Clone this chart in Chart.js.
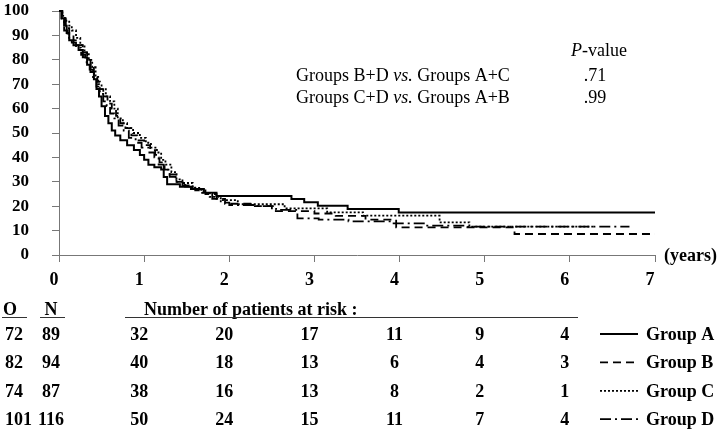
<!DOCTYPE html>
<html>
<head>
<meta charset="utf-8">
<script src="https://cdn.jsdelivr.net/npm/chart.js@4.4.1/dist/chart.umd.min.js"></script>
<style>
html,body{margin:0;padding:0;background:#fff;}
canvas{display:block;}
</style>
</head>
<body>
<canvas id="c" width="720" height="429"></canvas>
<script>
// ---- Data ----
const xTickLabels = ['0','1','2','3','4','5','6','7'];
const riskYears = [1,2,3,4,5,6];
const groupNames = ['Group A','Group B','Group C','Group D'];
const observed = [72, 82, 74, 101];
const totalN = [89, 94, 87, 116];
const riskA = [32, 20, 17, 11, 9, 4];
const riskB = [40, 18, 13, 6, 4, 3];
const riskC = [38, 16, 13, 8, 2, 1];
const riskD = [50, 24, 15, 11, 7, 4];

const groupATime = [0,0.03,0.06,0.09,0.12,0.17,0.23,0.28,0.33,0.37,0.41,0.44,0.47,0.5,0.54,0.58,0.62,0.66,0.72,0.8,0.88,0.95,1.0,1.05,1.12,1.2,1.23,1.27,1.42,1.55,1.7,1.85,2.73,2.88,3.04,3.39,3.99,7.0];
const groupASurv = [100,97,94,91,88,86,84,81,78,75,72,68,65,61,57,54,51,49,47,45,43,41,39,37,36,35,32,29,28,27,25.5,24.2,23,21.6,20.2,18.9,17.4,17.4];

const groupBTime = [0,0.04,0.08,0.12,0.17,0.22,0.28,0.33,0.37,0.41,0.45,0.48,0.52,0.57,0.62,0.67,0.72,0.78,0.85,0.92,1.0,1.07,1.13,1.18,1.24,1.3,1.38,1.48,1.6,1.72,1.85,1.95,2.3,2.5,3.0,3.25,3.6,3.96,5.35,7.0];
const groupBSurv = [100,97,93,90,88,86,83,80,77,74,71,68,65,62,60,57,54,52,49,47,45,43,41,38,35,33,30,28,26.5,25,23,21,20,18,17,16,14.5,11.3,8.6,8.6];

const groupCTime = [0,0.04,0.07,0.12,0.15,0.2,0.25,0.3,0.35,0.39,0.43,0.46,0.5,0.55,0.6,0.65,0.69,0.75,0.8,0.87,0.95,1.02,1.08,1.15,1.2,1.25,1.32,1.38,1.45,1.57,1.67,1.77,1.9,2.1,2.65,3.15,3.57,4.47,4.82,6.3];
const groupCSurv = [100,98,96,94,92,89,86,83,80,77,73,70,68,65,63,60,56,54,52,50,48,46,44,42,39,37,34,31,29.5,27.5,25.5,23.8,22.5,20.8,19.1,17.5,16.1,13.4,11.6,11.6];

const groupDTime = [0,0.03,0.06,0.1,0.15,0.2,0.26,0.31,0.36,0.4,0.44,0.48,0.52,0.56,0.6,0.65,0.7,0.76,0.82,0.9,0.97,1.05,1.12,1.17,1.23,1.3,1.37,1.45,1.57,1.7,1.8,1.9,2.0,2.3,2.55,2.8,3.05,3.4,3.9,4.3,4.8,6.7];
const groupDSurv = [100,96,92,89,87,85,82,79,76,72,69,66,63,61,58,56,53,51,48,46,44,42,40,37,35,32,30,28.5,27,25,23,21.5,20.5,20,18.5,15,14.5,13.8,13,12,11.6,11.6];

const pHeader = 'P-value';
const comparisons = ['Groups B+D vs. Groups A+C', 'Groups C+D vs. Groups A+B'];
const pValues = ['.71', '.99'];

// ---- Build ----
function pts(t, s){ return t.map((v,i)=>({x:v, y:s[i]})); }
const dashes = [[], [8,5], [2,2], [11,4,2,4]];
const widths = [2, 1.8, 1.8, 1.8];
const series = [pts(groupATime,groupASurv), pts(groupBTime,groupBSurv), pts(groupCTime,groupCSurv), pts(groupDTime,groupDSurv)];
const riskRows = [riskA, riskB, riskC, riskD];

const SERIF = '"Liberation Serif", "Times New Roman", serif';

const annot = {
  id: 'annot',
  afterDraw(chart){
    const ctx = chart.ctx;
    const xs = chart.scales.x;
    ctx.save();
    ctx.fillStyle = '#000';
    // (years)
    ctx.font = 'bold 18px ' + SERIF;
    ctx.textAlign = 'left';
    ctx.textBaseline = 'middle';
    ctx.fillText('(years)', 664, 256);

    // P-value block
    ctx.textBaseline = 'alphabetic';
    const normal = '18px ' + SERIF, italic = 'italic 18px ' + SERIF;
    ctx.font = italic;
    let x = 571;
    ctx.fillText(pHeader.charAt(0), x, 56);
    x += ctx.measureText(pHeader.charAt(0)).width;
    ctx.font = normal;
    ctx.fillText(pHeader.slice(1), x, 56);
    comparisons.forEach((txt, i) => {
      const y = 81 + i*22;
      const parts = txt.split(' vs. ');
      let px = 296;
      ctx.font = normal;
      ctx.fillText(parts[0] + ' ', px, y);
      px += ctx.measureText(parts[0] + ' ').width;
      ctx.font = italic;
      ctx.fillText('vs.', px, y);
      px += ctx.measureText('vs.').width;
      ctx.font = normal;
      ctx.fillText(' ' + parts[1], px, y);
      ctx.textAlign = 'center';
      ctx.fillText(pValues[i], 595, y);
      ctx.textAlign = 'left';
    });

    // Risk table
    const bold = 'bold 18px ' + SERIF;
    ctx.font = bold;
    ctx.textAlign = 'left';
    ctx.fillText('O', 3, 315);
    ctx.textAlign = 'center';
    ctx.fillText('N', 51, 315);
    ctx.textAlign = 'left';
    ctx.fillText('Number of patients at risk :', 144, 315);
    ctx.strokeStyle = '#333';
    ctx.lineWidth = 1;
    ctx.beginPath();
    ctx.moveTo(2, 317.5); ctx.lineTo(27, 317.5);
    ctx.moveTo(40, 317.5); ctx.lineTo(65, 317.5);
    ctx.moveTo(125, 317.5); ctx.lineTo(578, 317.5);
    ctx.stroke();

    riskRows.forEach((row, r) => {
      const y = 340 + r*28.4;
      ctx.font = bold;
      ctx.textAlign = 'left';
      ctx.fillText(String(observed[r]), 5, y);
      ctx.textAlign = 'center';
      ctx.fillText(String(totalN[r]), 51, y);
      row.forEach((v, k) => {
        ctx.fillText(String(v), xs.getPixelForValue(riskYears[k]) - 5, y);
      });
      // legend
      ctx.save();
      ctx.strokeStyle = '#000';
      ctx.lineWidth = widths[r];
      ctx.setLineDash(dashes[r]);
      ctx.beginPath();
      ctx.moveTo(600, y - 6);
      ctx.lineTo(638, y - 6);
      ctx.stroke();
      ctx.restore();
      ctx.textAlign = 'left';
      ctx.fillText(groupNames[r], 646, y);
    });
    ctx.restore();
  }
};

new Chart(document.getElementById('c'), {
  type: 'line',
  data: {
    datasets: series.map((d, i) => ({
      label: groupNames[i],
      data: d,
      borderColor: '#000',
      borderWidth: widths[i],
      borderDash: dashes[i],
      stepped: 'before',
      pointRadius: 0,
      fill: false,
      tension: 0,
      clip: 4
    }))
  },
  options: {
    responsive: false,
    animation: false,
    devicePixelRatio: 1,
    layout: { padding: { top: 11, right: 65, left: 0, bottom: 0 } },
    plugins: { legend: { display: false }, tooltip: { enabled: false } },
    scales: {
      x: {
        type: 'linear',
        min: 0, max: 7,
        ticks: {
          stepSize: 1,
          padding: 8,
          labelOffset: -5,
          autoSkip: false,
          maxRotation: 0,
          color: '#000',
          font: { family: SERIF, size: 18, weight: 'bold' },
          callback: (v) => xTickLabels[v]
        },
        grid: { drawOnChartArea: false, drawTicks: true, tickLength: 7, color: '#777', lineWidth: 1 },
        border: { display: true, color: '#777', width: 1 },
        afterFit: (s) => { s.height = 174; s.paddingLeft = 0; s.paddingRight = 0; }
      },
      y: {
        min: 0, max: 100,
        ticks: {
          stepSize: 10,
          padding: 23,
          autoSkip: false,
          color: '#000',
          font: { family: SERIF, size: 17, weight: 'bold' }
        },
        grid: { drawOnChartArea: false, drawTicks: true, tickLength: 7, color: '#777', lineWidth: 1 },
        border: { display: true, color: '#777', width: 1 },
        afterFit: (s) => { s.width = 59; s.paddingTop = 8; s.paddingBottom = 8; }
      }
    }
  },
  plugins: [annot]
});
</script>
</body>
</html>
